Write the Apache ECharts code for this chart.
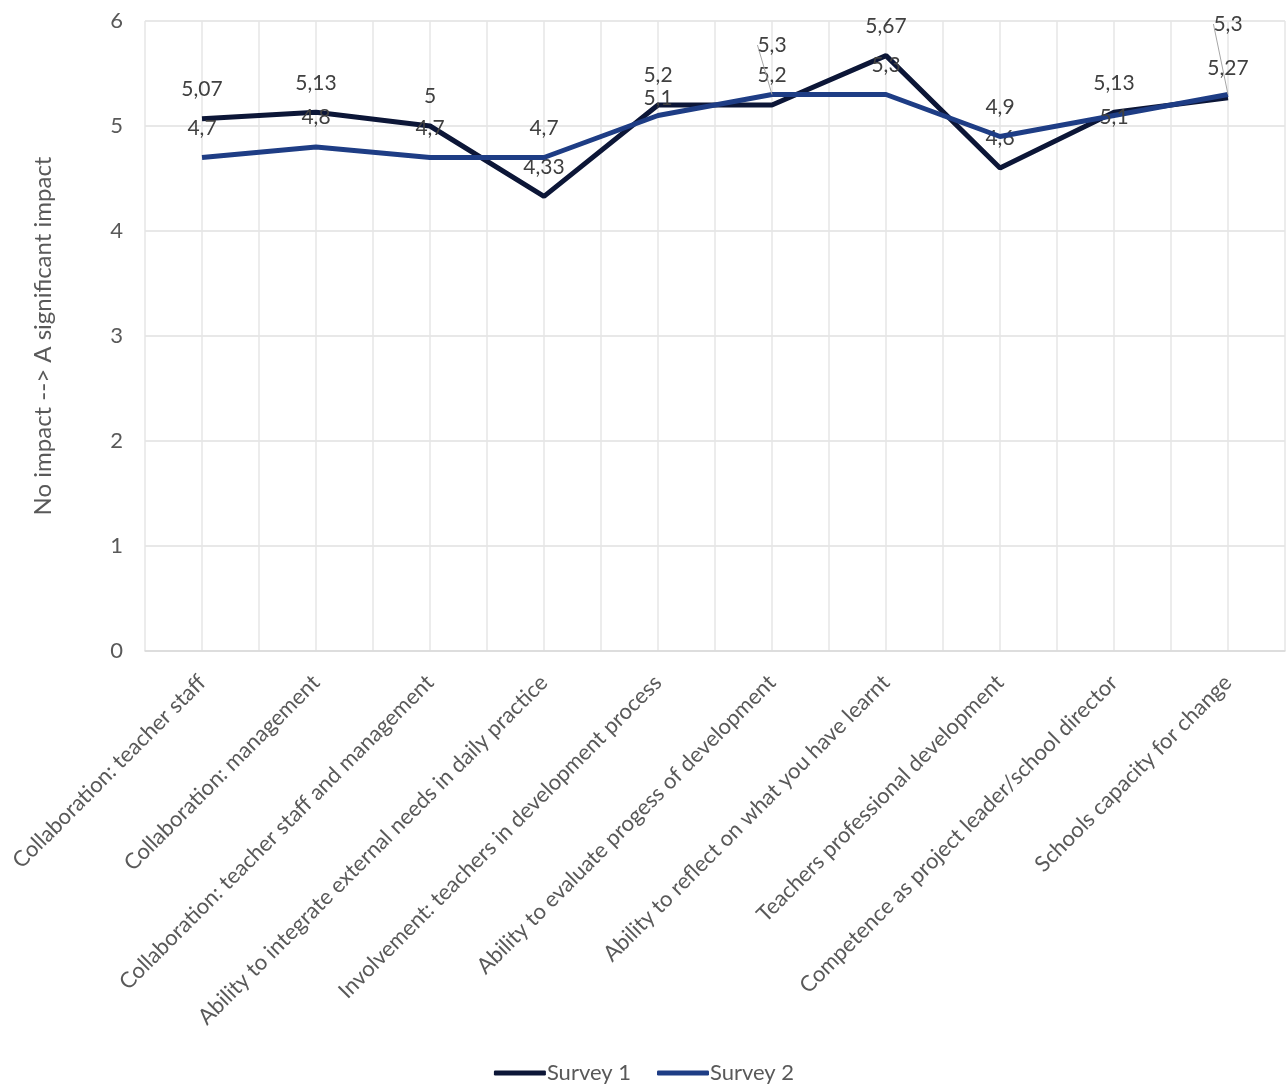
<!DOCTYPE html>
<html>
<head>
<meta charset="utf-8">
<script src="https://cdn.jsdelivr.net/npm/echarts@6/dist/echarts.min.js"></script>
<style>
  html, body { margin: 0; padding: 0; background: #fff; }
  #main { width: 1288px; height: 1086px; }
</style>
</head>
<body>
<div id="main"></div>
<script>
// categories and values
var categories = [
    'Collaboration: teacher staff',
    'Collaboration: management',
    'Collaboration: teacher staff and management',
    'Ability to integrate external needs in daily practice',
    'Involvement: teachers in development process',
    'Ability to evaluate progess of development',
    'Ability to reflect on what you have learnt',
    'Teachers professional development',
    'Competence as project leader/school director',
    'Schools capacity for change'
];
var survey1 = [5.07, 5.13, 5, 4.33, 5.2, 5.2, 5.67, 4.6, 5.13, 5.27];
var survey2 = [4.7, 4.8, 4.7, 4.7, 5.1, 5.3, 5.3, 4.9, 5.1, 5.3];
var yTicks = [0, 1, 2, 3, 4, 5, 6];

var font = 'Lato';
var textColor = '#595959';

// half-category grid for the vertical lines
var halfCats = [];
for (var i = 0; i < categories.length * 2; i++) halfCats.push('h' + i);

function comma(p) {
    return String(p.value).replace('.', ',');
}

var myChart = echarts.init(document.getElementById('main'));

var dataLabel = {
    show: true,
    position: 'top',
    distance: 19,
    formatter: comma,
    fontFamily: font,
    fontSize: 21,
    color: '#404040'
};

// labels Excel moved away from the default spot (survey 2)
var moved2 = { 4: 12, 8: 31, 5: -20, 9: -41 };
var leader2 = [5, 9];

var option = {
    animation: false,
    textStyle: { fontFamily: font },
    grid: { left: 145, right: 3, top: 21, bottom: 435, containLabel: false },
    legend: {
        bottom: -3,
        left: 'center',
        itemWidth: 52,
        itemHeight: 5,
        itemGap: 26,
        icon: 'roundRect',
        textStyle: { fontFamily: font, fontSize: 22, color: textColor, padding: [0, 0, 0, -4] },
        data: ['Survey 1', 'Survey 2']
    },
    xAxis: [{
        type: 'category',
        data: categories,
        axisLine: { lineStyle: { color: '#d9d9d9', width: 1.5 } },
        axisTick: { show: false },
        splitLine: { show: false },
        axisLabel: {
            interval: 0,
            rotate: 45,
            margin: 28,
            fontFamily: font,
            fontSize: 22,
            color: textColor
        }
    }, {
        type: 'category',
        data: halfCats,
        position: 'bottom',
        axisLine: { show: false },
        axisTick: { show: false },
        axisLabel: { show: false },
        splitLine: { show: true, lineStyle: { color: '#e6e6e6', width: 1.5 } }
    }],
    yAxis: {
        type: 'value',
        min: yTicks[0],
        max: yTicks[yTicks.length - 1],
        interval: 1,
        name: 'No impact --> A significant impact',
        nameLocation: 'middle',
        nameGap: 90,
        nameTextStyle: { fontFamily: font, fontSize: 24, color: textColor },
        axisLine: { show: false },
        axisTick: { show: false },
        axisLabel: { margin: 22, fontFamily: font, fontSize: 22, color: textColor },
        splitLine: { lineStyle: { color: '#e0e0e0', width: 1.5 } }
    },
    series: [{
        name: 'Survey 1',
        type: 'line',
        data: survey1,
        symbol: 'circle',
        symbolSize: 0,
        showSymbol: true,
        lineStyle: { color: '#0c1637', width: 5 },
        itemStyle: { color: '#0c1637' },
        z: 3,
        label: dataLabel
    }, {
        name: 'Survey 2',
        type: 'line',
        data: survey2.map(function (v, i) {
            if (leader2.indexOf(i) > -1) {
                return { value: v, labelLine: { show: true } };
            }
            return v;
        }),
        symbol: 'circle',
        symbolSize: 0,
        showSymbol: true,
        lineStyle: { color: '#1e3d85', width: 5 },
        itemStyle: { color: '#1e3d85' },
        z: 4,
        label: dataLabel,
        labelLine: { show: false, lineStyle: { color: '#a6a6a6', width: 1 } },
        labelLayout: function (params) {
            var dy = moved2[params.dataIndex];
            if (dy === undefined) return {};
            return { dy: dy };
        }
    }]
};

myChart.setOption(option);
</script>
</body>
</html>
